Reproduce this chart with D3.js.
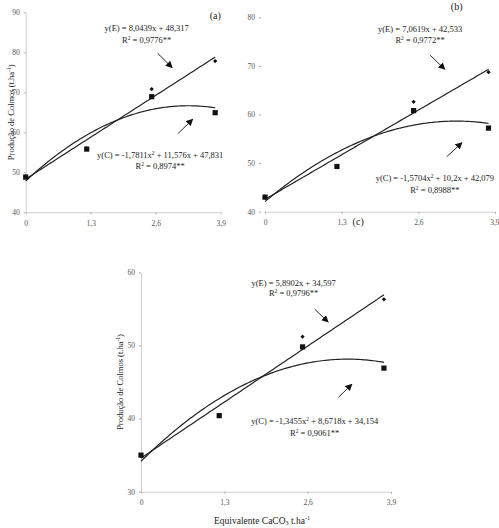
<!DOCTYPE html>
<html><head><meta charset="utf-8">
<script src="https://cdn.jsdelivr.net/npm/d3@7"></script>
<style>body{margin:0;background:#fff}svg{display:block}</style>
</head><body>
<script>
// ---- data ----
const doses = [0, 1.22, 2.52, 3.79];
const xTicks = [0, 1.3, 2.6, 3.9];
const xTickLabels = ["0", "1,3", "2,6", "3,9"];

const valuesE_a = [49.0, 56.0, 70.8, 77.8];
const valuesC_a = [48.8, 55.8, 68.9, 64.9];
const valuesE_b = [43.1, 49.3, 62.6, 68.7];
const valuesC_b = [43.0, 49.3, 60.8, 57.2];
const valuesE_c = [35.0, 40.4, 51.2, 56.3];
const valuesC_c = [35.0, 40.4, 49.8, 46.9];

const fitE_a = [8.0439, 48.317];            // slope, intercept
const fitC_a = [-1.7811, 11.576, 47.831];   // a, b, c
const fitE_b = [7.0619, 42.533];
const fitC_b = [-1.5704, 10.2, 42.079];
const fitE_c = [5.8902, 34.597];
const fitC_c = [-1.3455, 8.6718, 34.154];

const yTicks_a = [40, 50, 60, 70, 80, 90];
const yTicks_b = [40, 50, 60, 70, 80];
const yTicks_c = [30, 40, 50, 60];

const eqE_a = ["y(E) = 8,0439x + 48,317", "0,9776**"];
const eqC_a = ["y(C) = -1,7811x", " + 11,576x + 47,831", "0,8974**"];
const eqE_b = ["y(E) = 7,0619x + 42,533", "0,9772**"];
const eqC_b = ["y(C) = -1,5704x", " + 10,2x + 42,079", "0,8988**"];
const eqE_c = ["y(E) = 5,8902x + 34,597", "0,9796**"];
const eqC_c = ["y(C) = -1,3455x", " + 8,6718x + 34,154", "0,9061**"];

const yTitle = "Produção de Colmos (t.ha";
const xTitle = "Equivalente CaCO";

// ---- layout ----
const W = 499, H = 528;
const svg = d3.select("body").append("svg").attr("width", W).attr("height", H)
  .style("font-family", "'Liberation Serif','Times New Roman',serif");

const defs = svg.append("defs");
defs.append("marker").attr("id", "ah").attr("viewBox", "0 0 10 10")
  .attr("refX", 9).attr("refY", 5).attr("markerWidth", 7).attr("markerHeight", 7)
  .attr("markerUnits", "userSpaceOnUse").attr("orient", "auto")
  .append("path").attr("d", "M0,0 L10,5 L0,10 z").attr("fill", "#111");

const panels = [
  { name: "a", xr: [25.7, 220.7], yd: [40, 90], yr: [212.3, 12.3], yLine: true,
    yTicks: yTicks_a, E: valuesE_a, C: valuesC_a, fE: fitE_a, fC: fitC_a,
    eqE: eqE_a, eqC: eqC_a,
    eqEpos: [2.42, 85.3, 82.3], eqCpos: [2.69, 53.6, 50.8],
    arrows: [[2.64, 79.75, 2.93, 76.15], [3.04, 59.6, 3.34, 63.25]],
    label: ["(a)", 3.79, 88.4], yTitleX: 11 },
  { name: "b", xr: [265, 495], yd: [40, 80], yr: [211.7, 17.3], yLine: false,
    yTicks: yTicks_b, E: valuesE_b, C: valuesC_b, fE: fitE_b, fC: fitC_b,
    eqE: eqE_b, eqC: eqC_b,
    eqEpos: [2.63, 77.0, 74.7], eqCpos: [2.88, 46.3, 43.9],
    arrows: [[2.80, 72.2, 3.05, 69.3], [3.08, 51.3, 3.34, 54.2]],
    label: ["(b)", 3.25, 81.6], yTitleX: null },
  { name: "c", xr: [141, 391], yd: [30, 60], yr: [491.7, 272.3], yLine: true,
    yTicks: yTicks_c, E: valuesE_c, C: valuesC_c, fE: fitE_c, fC: fitC_c,
    eqE: eqE_c, eqC: eqC_c,
    eqEpos: [2.38, 58.1, 56.7], eqCpos: [2.71, 39.3, 37.6],
    arrows: [[2.71, 54.95, 2.92, 53.2], [3.08, 42.9, 3.29, 44.7]],
    label: null, yTitleX: 120, xTitleY: 523.5 }
];

panels.forEach(p => {
  const x = d3.scaleLinear().domain([0, 3.9]).range(p.xr);
  const y = d3.scaleLinear().domain(p.yd).range(p.yr);
  const g = svg.append("g");

  // x axis
  const xa = g.append("g").attr("transform", `translate(0,${p.yr[0]})`)
    .call(d3.axisBottom(x).tickValues(xTicks).tickFormat((d, i) => xTickLabels[i])
      .tickSizeInner(2).tickSizeOuter(0).tickPadding(6));
  xa.select(".domain").attr("stroke", "#cfcfcf").attr("stroke-width", 1);
  xa.selectAll(".tick line").attr("stroke", "#aaa");
  xa.selectAll("text").attr("fill", "#555").style("font-size", "7.5px")
    .style("font-family", "'Liberation Serif',serif");
  if (p.name === "b") {
    xa.selectAll(".tick text").filter((d, i) => i === 3).attr("text-anchor", "end").attr("dx", 4);
  }

  // y axis
  const ya = g.append("g").attr("transform", `translate(${p.xr[0]},0)`)
    .call(d3.axisLeft(y).tickValues(p.yTicks).tickFormat(d3.format("d"))
      .tickSizeInner(2).tickSizeOuter(0).tickPadding(4));
  ya.select(".domain").attr("stroke", p.yLine ? "#cfcfcf" : "none").attr("stroke-width", 1);
  ya.selectAll(".tick line").attr("stroke", "#aaa");
  ya.selectAll("text").attr("fill", "#555").style("font-size", "7.5px")
    .style("font-family", "'Liberation Serif',serif");
  if (!p.yLine) ya.attr("transform", `translate(${p.xr[0] - 4},0)`);

  // fit lines
  const xs = d3.range(0, 3.79 + 1e-9, 0.03).concat([3.79]);
  const lineGen = d3.line().x(d => x(d[0])).y(d => y(d[1]));
  g.append("path").datum(xs.map(v => [v, p.fE[0] * v + p.fE[1]]))
    .attr("d", lineGen).attr("fill", "none").attr("stroke", "#222").attr("stroke-width", 1.2);
  g.append("path").datum(xs.map(v => [v, p.fC[0] * v * v + p.fC[1] * v + p.fC[2]]))
    .attr("d", d3.line().curve(d3.curveBasis).x(d => x(d[0])).y(d => y(d[1])))
    .attr("fill", "none").attr("stroke", "#222").attr("stroke-width", 1.2);

  // markers
  g.selectAll(".sq").data(p.C).enter().append("rect")
    .attr("x", (d, i) => x(doses[i]) - 2.6).attr("y", d => y(d) - 2.6)
    .attr("width", 5.2).attr("height", 5.2).attr("fill", "#111");
  g.selectAll(".dm").data(p.E).enter().append("path")
    .attr("d", d3.symbol(d3.symbolSquare, 9))
    .attr("transform", (d, i) => `translate(${x(doses[i])},${y(d)}) rotate(45)`).attr("fill", "#111");

  // equations
  const fs = "8.5px";
  g.append("text").attr("x", x(p.eqEpos[0])).attr("y", y(p.eqEpos[1]))
    .attr("text-anchor", "middle").style("font-size", fs).attr("fill", "#222").text(p.eqE[0]);
  const rE = g.append("text").attr("x", x(p.eqEpos[0])).attr("y", y(p.eqEpos[2]))
    .attr("text-anchor", "middle").style("font-size", fs).attr("fill", "#222");
  rE.append("tspan").text("R");
  rE.append("tspan").attr("dy", -3).style("font-size", "5.5px").text("2");
  rE.append("tspan").attr("dy", 3).text(" = " + p.eqE[1]);

  const eC = g.append("text").attr("x", x(p.eqCpos[0])).attr("y", y(p.eqCpos[1]))
    .attr("text-anchor", "middle").style("font-size", fs).attr("fill", "#222");
  eC.append("tspan").text(p.eqC[0]);
  eC.append("tspan").attr("dy", -3).style("font-size", "5.5px").text("2");
  eC.append("tspan").attr("dy", 3).text(p.eqC[1]);
  const rC = g.append("text").attr("x", x(p.eqCpos[0])).attr("y", y(p.eqCpos[2]))
    .attr("text-anchor", "middle").style("font-size", fs).attr("fill", "#222");
  rC.append("tspan").text("R");
  rC.append("tspan").attr("dy", -3).style("font-size", "5.5px").text("2");
  rC.append("tspan").attr("dy", 3).text(" = " + p.eqC[2]);

  // arrows
  p.arrows.forEach(a => {
    g.append("line").attr("x1", x(a[0])).attr("y1", y(a[1]))
      .attr("x2", x(a[2])).attr("y2", y(a[3]))
      .attr("stroke", "#111").attr("stroke-width", 0.9).attr("marker-end", "url(#ah)");
  });

  if (p.label) {
    g.append("text").attr("x", x(p.label[1])).attr("y", y(p.label[2]))
      .attr("text-anchor", "middle").style("font-size", "10px").attr("fill", "#222").text(p.label[0]);
  }
  if (p.name === "b") {
    g.append("text").attr("x", x(1.58)).attr("y", y(37.3))
      .attr("text-anchor", "middle").style("font-size", "10px").attr("fill", "#222").text("(c)");
  }

  // y title
  if (p.yTitleX !== null) {
    const cy = (p.yr[0] + p.yr[1]) / 2;
    const t = g.append("text").attr("transform", `translate(${p.yTitleX},${cy}) rotate(-90)`)
      .attr("text-anchor", "middle").attr("dy", "0.35em").style("font-size", "8.5px").attr("fill", "#222");
    t.append("tspan").text(yTitle);
    t.append("tspan").attr("dy", -3).style("font-size", "5.5px").text("-1");
    t.append("tspan").attr("dy", 3).text(")");
  }
  if (p.xTitleY) {
    const t = g.append("text").attr("x", 262).attr("y", p.xTitleY)
      .attr("text-anchor", "middle").style("font-size", "9.5px").attr("fill", "#222");
    t.append("tspan").text(xTitle);
    t.append("tspan").attr("dy", 1.5).style("font-size", "6px").text("3");
    t.append("tspan").attr("dy", -1.5).text(" t.ha");
    t.append("tspan").attr("dy", -3.5).style("font-size", "6px").text("-1");
  }
});
</script>
</body></html>
